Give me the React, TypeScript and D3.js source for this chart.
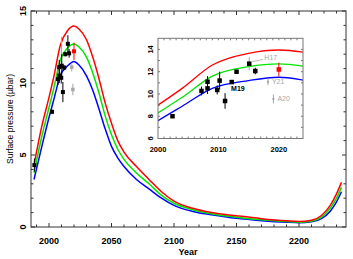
import * as d3 from 'd3';

// model curves (shared years)
const modelYears = [1988, 1994, 2000, 2004, 2009, 2015, 2020, 2024, 2030, 2035, 2040, 2045, 2050, 2055, 2060, 2070, 2080, 2090, 2100, 2115, 2130, 2150, 2170, 2190, 2200, 2210, 2218, 2225, 2230, 2234];
const redModel = [4.3, 6.9, 9.0, 10.5, 12.6, 13.65, 13.95, 13.75, 13.0, 11.8, 10.3, 8.6, 7.2, 6.0, 5.2, 4.2, 3.3, 2.45, 1.8, 1.3, 1.0, 0.78, 0.58, 0.43, 0.38, 0.47, 0.8, 1.5, 2.3, 3.1];
const greenModel = [3.75, 6.2, 8.3, 9.7, 11.6, 12.45, 12.7, 12.5, 11.8, 10.7, 9.3, 7.7, 6.4, 5.4, 4.7, 3.75, 3.0, 2.2, 1.65, 1.2, 0.92, 0.68, 0.5, 0.38, 0.33, 0.4, 0.68, 1.3, 2.0, 2.75];
const blueModel = [3.3, 5.5, 7.6, 8.9, 10.5, 11.2, 11.5, 11.25, 10.5, 9.5, 8.2, 6.8, 5.6, 4.8, 4.2, 3.3, 2.65, 2.0, 1.5, 1.08, 0.85, 0.6, 0.44, 0.33, 0.3, 0.36, 0.58, 1.1, 1.75, 2.45];

// occultation results (M19 and H17)
const obsYears = [1988.3, 2002.4, 2007.2, 2008.2, 2008.2, 2009.8, 2010.2, 2011.1, 2012.2, 2013.0, 2015.1, 2016.1];
const obsValues = [4.3, 8.0, 10.27, 11.1, 10.5, 10.36, 11.2, 9.37, 11.07, 12.0, 12.72, 12.06];
const obsErrors = [0.45, 0.15, 0.4, 0.5, 0.5, 0.4, 0.8, 0.7, 0.15, 0.15, 0.6, 0.3];

// other points
const grayYears = [2018.2, 2019.1];
const grayValues = [11.1, 9.55];
const grayErrors = [0.3, 0.4];
const grayNames = ['Y21', 'A20'];
const redYear = 2020.0;
const redValue = 12.2;
const redError = 0.6;
// extra grey error bar seen on the main panel
const extraYear = 2010.0;
const extraValue = 12.2;
const extraError = 1.0;

const mainXTicks = [2000, 2050, 2100, 2150, 2200];
const mainYTicks = [0, 5, 10, 15];
const insetXTicks = [2000, 2010, 2020];
const insetYTicks = [6, 8, 10, 12, 14];

const FONT = '"Liberation Sans", Arial, sans-serif';
const AXIS = '#333';
const GRAY = '#a6a6a6';

const App = () => {
    const x = d3.scaleLinear().domain([1985.6, 2237.6]).range([31, 346]);
    const y = d3.scaleLinear().domain([0, 15]).range([227, 11]);

    const ix = d3.scaleLinear().domain([2000, 2024]).range([158, 303]);
    const iy = d3.scaleLinear().domain([6, 15]).range([138.5, 38.3]);

    const mainLine = d3.line<number>()
        .x((d, i) => x(modelYears[i]))
        .y(d => y(d))
        .curve(d3.curveMonotoneX);
    const insetLine = d3.line<number>()
        .x((d, i) => ix(modelYears[i]))
        .y(d => iy(d))
        .curve(d3.curveMonotoneX);

    const models = [
        {vals: blueModel, color: '#0000ff'},
        {vals: greenModel, color: '#00e600'},
        {vals: redModel, color: '#ff0000'},
    ];

    const xMinor = d3.range(1990, 2240, 10);
    const yMinor = d3.range(0, 16, 1);
    const ixMinor = d3.range(2001, 2024, 1);
    const iyMinor = d3.range(7, 15, 1);

    const [x0, x1] = x.range();
    const [y0, y1] = y.range();
    const [ix0, ix1] = ix.range();
    const [iy0, iy1] = iy.range();

    const sq = (cx: number, cy: number, s: number, fill: string, key: string) =>
        <rect key={key} x={cx - s / 2} y={cy - s / 2} width={s} height={s} fill={fill}/>;

    return (
        <svg width={353} height={259} style={{position: 'absolute', left: 0, top: 0, background: '#fff'}}
             fontFamily={FONT}>
            <defs>
                <clipPath id="insetClip">
                    <rect x={ix0} y={iy1} width={ix1 - ix0} height={iy0 - iy1}/>
                </clipPath>
            </defs>

            {/* main curves */}
            {models.map(m => (
                <path key={m.color} d={mainLine(m.vals) || ''} fill="none" stroke={m.color} strokeWidth={1.5}/>
            ))}

            {/* main points */}
            <line x1={x(extraYear)} x2={x(extraYear)} y1={y(extraValue - extraError)} y2={y(extraValue + extraError)}
                  stroke={GRAY} strokeWidth={1}/>
            {obsYears.map((yr, i) => (
                <g key={'o' + i}>
                    <line x1={x(yr)} x2={x(yr)} y1={y(obsValues[i] - obsErrors[i])} y2={y(obsValues[i] + obsErrors[i])}
                          stroke="#000" strokeWidth={1}/>
                    {sq(x(yr), y(obsValues[i]), 4, '#000', 'os' + i)}
                </g>
            ))}
            {grayYears.map((yr, i) => (
                <g key={'g' + i}>
                    <line x1={x(yr)} x2={x(yr)} y1={y(grayValues[i] - grayErrors[i])} y2={y(grayValues[i] + grayErrors[i])}
                          stroke={GRAY} strokeWidth={1}/>
                    {sq(x(yr), y(grayValues[i]), 3.5, GRAY, 'gs' + i)}
                </g>
            ))}
            <line x1={x(redYear)} x2={x(redYear)} y1={y(redValue - redError)} y2={y(redValue + redError)} stroke="#ff0000"/>
            {sq(x(redYear), y(redValue), 4, '#ff0000', 'red')}

            {/* main frame */}
            <rect x={x0} y={y1} width={x1 - x0} height={y0 - y1} fill="none" stroke={AXIS} strokeWidth={1}/>
            {xMinor.map(t => {
                const major = t % 50 === 0;
                return (
                    <g key={'xt' + t}>
                        <line x1={x(t)} x2={x(t)} y1={y0} y2={y0 - (major ? 4 : 2.5)} stroke={AXIS}/>
                        <line x1={x(t)} x2={x(t)} y1={y1} y2={y1 + (major ? 4 : 2.5)} stroke={AXIS}/>
                    </g>
                );
            })}
            {yMinor.map(t => {
                const major = t % 5 === 0;
                return (
                    <g key={'yt' + t}>
                        <line x1={x0} x2={x0 + (major ? 4 : 2.5)} y1={y(t)} y2={y(t)} stroke={AXIS}/>
                        <line x1={x1} x2={x1 - (major ? 4 : 2.5)} y1={y(t)} y2={y(t)} stroke={AXIS}/>
                    </g>
                );
            })}
            {mainXTicks.map(t => (
                <text key={'xl' + t} x={x(t)} y={244} textAnchor="middle" fontSize={9} fontWeight="bold">{t}</text>
            ))}
            {mainYTicks.map(t => (
                <text key={'yl' + t} transform={`translate(26,${y(t)}) rotate(-90)`} textAnchor="middle"
                      fontSize={9} fontWeight="bold">{t}</text>
            ))}
            <text x={188} y={255} textAnchor="middle" fontSize={9} fontWeight="bold">Year</text>
            <text transform={`translate(13,${(y0 + y1) / 2}) rotate(-90)`} textAnchor="middle" fontSize={8.5}>
                Surface pressure (µbar)
            </text>

            {/* inset */}
            <rect x={ix0} y={iy1} width={ix1 - ix0} height={iy0 - iy1} fill="#fff"/>
            <g clipPath="url(#insetClip)">
                {models.map(m => (
                    <path key={'i' + m.color} d={insetLine(m.vals) || ''} fill="none" stroke={m.color} strokeWidth={1.3}/>
                ))}
            </g>
            {obsYears.map((yr, i) => {
                if (yr < 2000) return null;
                const isH17 = i === obsYears.length - 2;
                return (
                    <g key={'io' + i}>
                        <line x1={ix(yr)} x2={ix(yr)} y1={iy(obsValues[i] - obsErrors[i])} y2={iy(obsValues[i] + obsErrors[i])}
                              stroke={isH17 ? GRAY : '#000'} strokeWidth={1}/>
                        {sq(ix(yr), iy(obsValues[i]), 4.5, '#000', 'ios' + i)}
                    </g>
                );
            })}
            {grayYears.map((yr, i) => (
                <g key={'ig' + i}>
                    <line x1={ix(yr)} x2={ix(yr)} y1={iy(grayValues[i] - grayErrors[i])} y2={iy(grayValues[i] + grayErrors[i])}
                          stroke={GRAY} strokeWidth={1}/>
                    {sq(ix(yr), iy(grayValues[i]), 2, GRAY, 'igs' + i)}
                    <text x={ix(yr) + 4} y={iy(grayValues[i]) + 2.5} fontSize={7} fill={GRAY}>{grayNames[i]}</text>
                </g>
            ))}
            <line x1={ix(redYear)} x2={ix(redYear)} y1={iy(redValue - redError)} y2={iy(redValue + redError)} stroke="#ff0000"/>
            {sq(ix(redYear), iy(redValue), 4.5, '#ff0000', 'ired')}
            <line x1={ix(2015.1) + 3} y1={iy(12.72) - 2} x2={ix(2017.4)} y2={iy(13.1)} stroke={GRAY} strokeWidth={0.8}/>
            <text x={ix(2017.6)} y={iy(13.05)} fontSize={7} fill={GRAY}>H17</text>
            <text x={ix(2012.1)} y={iy(10.25)} fontSize={7} fontWeight="bold">M19</text>

            <rect x={ix0} y={iy1} width={ix1 - ix0} height={iy0 - iy1} fill="none" stroke="#777" strokeWidth={1}/>
            {ixMinor.map(t => (
                <g key={'ixt' + t}>
                    <line x1={ix(t)} x2={ix(t)} y1={iy0} y2={iy0 - 2} stroke="#777"/>
                    <line x1={ix(t)} x2={ix(t)} y1={iy1} y2={iy1 + 2} stroke="#777"/>
                </g>
            ))}
            {iyMinor.map(t => (
                <g key={'iyt' + t}>
                    <line x1={ix0} x2={ix0 + 2} y1={iy(t)} y2={iy(t)} stroke="#777"/>
                    <line x1={ix1} x2={ix1 - 2} y1={iy(t)} y2={iy(t)} stroke="#777"/>
                </g>
            ))}
            {insetXTicks.map(t => (
                <text key={'ixl' + t} x={ix(t)} y={152} textAnchor="middle" fontSize={7.5} fontWeight="bold">{t}</text>
            ))}
            {insetYTicks.map(t => (
                <text key={'iyl' + t} transform={`translate(153,${iy(t)}) rotate(-90)`} textAnchor="middle"
                      fontSize={7.5} fontWeight="bold">{t}</text>
            ))}
        </svg>
    );
};

export default App;
